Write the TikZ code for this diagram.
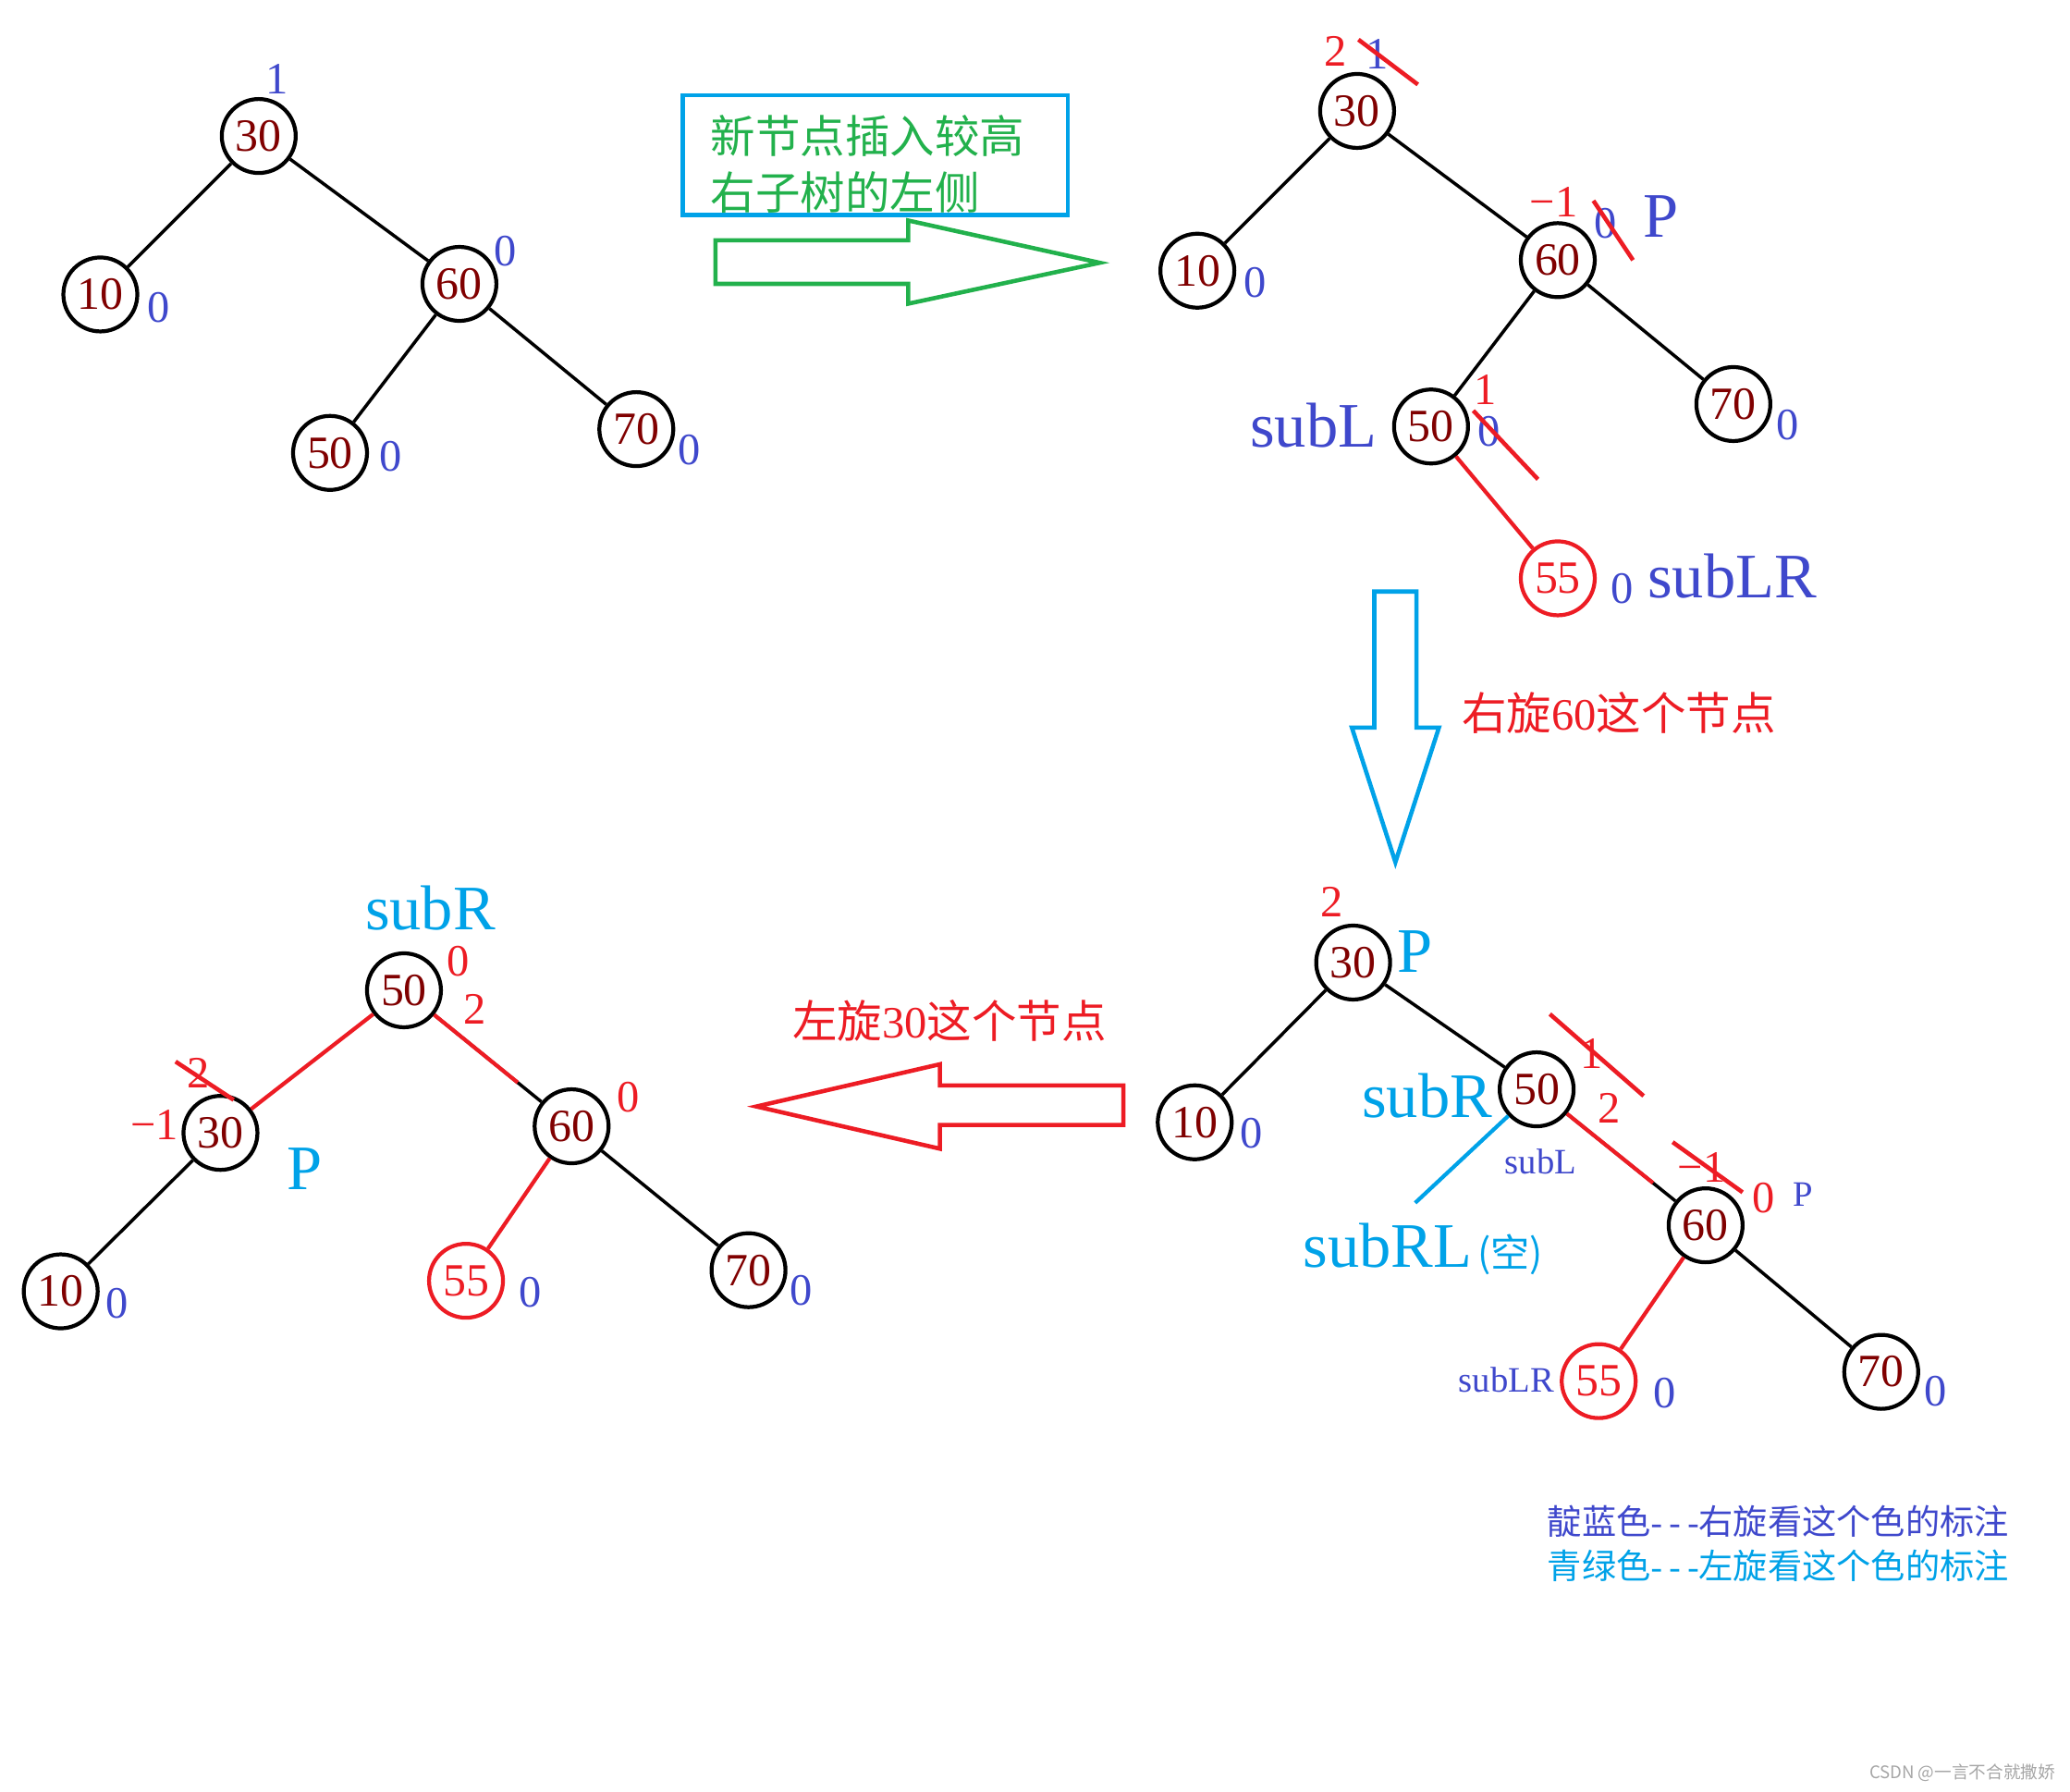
\documentclass[tikz,border=0pt]{standalone}
\usepackage{fontspec}
\setmainfont{Liberation Serif}
\newfontfamily\cjk{Noto Sans CJK SC}
\definecolor{nodered}{RGB}{128,0,0}
\definecolor{pred}{RGB}{237,28,36}
\definecolor{pblue}{RGB}{63,72,204}
\definecolor{pcyan}{RGB}{0,162,232}
\definecolor{pgreen}{RGB}{34,177,76}
\newcommand\tripledash{{\rmfamily -\kern0.2em-\kern0.2em-}}

\begin{document}
\begin{tikzpicture}[x = 0.01428cm, y = -0.01428cm, line width = 1pt,
    key/.style = {circle, draw, line width = 1.2pt, minimum size = 0.8cm, inner sep = 0pt, text = nodered, font = \fontsize{14.2}{16}\selectfont},
    newkey/.style = {key, draw = pred, text = pred},
    bal/.style = {inner sep = 0pt, text = pblue, font = \fontsize{13.8}{16}\selectfont},
    rbal/.style = {bal, text = pred},
    tag/.style = {inner sep = 0pt, text = pblue, font = \fontsize{19.5}{22}\selectfont},
    ctag/.style = {tag, text = pcyan},
    stag/.style = {inner sep = 0pt, text = pblue, font = \fontsize{11}{13}\selectfont},
    note/.style = {inner sep = 0pt, anchor = west, font = \cjk\fontsize{13.8}{17}\selectfont},
    redge/.style = {pred, line width = 1.2pt},
    strike/.style = {pred, line width = 1.3pt},
    fat/.style = {line width = 1.3pt, line join = miter}]
    \path[fill = white, use as bounding box] (0,0) rectangle (1568,1357);

    % before insertion
    \node[key]		(a30)	at (196,103)	{30};
    \node[key]		(a10)	at (76,223)		{10};
    \node[key]		(a60)	at (348,215)	{60};
    \node[key]		(a50)	at (250,343)	{50};
    \node[key]		(a70)	at (482,325)	{70};
    \node[bal]		(a30b)	at (210,60)		{1};
    \node[bal]		(a10b)	at (120,233)	{0};
    \node[bal]		(a60b)	at (383,190)	{0};
    \node[bal]		(a50b)	at (296,346)	{0};
    \node[bal]		(a70b)	at (522,341)	{0};
    \path	(a30)	edge	(a10);
    \path	(a30)	edge	(a60);
    \path	(a60)	edge	(a50);
    \path	(a60)	edge	(a70);

    \draw[pcyan, line width = 1.3pt] (517,72) rectangle (809,163);
    \node[note, text = pgreen]	(ins1)	at (537,103)	{新节点插入较高};
    \node[note, text = pgreen]	(ins2)	at (537,146)	{右子树的左侧};
    \draw[fat, pgreen] (542,182) -- (688,182) -- (688,167) -- (833,199) -- (688,230) -- (688,215) -- (542,215) -- cycle;

    % after insertion
    \node[key]		(b30)	at (1028,84)	{30};
    \node[key]		(b10)	at (907,205)	{10};
    \node[key]		(b60)	at (1180,197)	{60};
    \node[key]		(b50)	at (1084,323)	{50};
    \node[key]		(b70)	at (1313,306)	{70};
    \node[newkey]	(b55)	at (1180,438)	{55};
    \node[rbal]		(b30r)	at (1012,39)	{2};
    \node[bal]		(b30b)	at (1043,41)	{1};
    \node[bal]		(b10b)	at (951,214)	{0};
    \node[rbal]		(b60r)	at (1177,153)	{−1};
    \node[bal]		(b60b)	at (1216,169)	{0};
    \node[tag]		(b60p)	at (1258,164)	{P};
    \node[tag]		(b50t)	at (995,322)	{subL};
    \node[rbal]		(b50r)	at (1125,295)	{1};
    \node[bal]		(b50b)	at (1128,327)	{0};
    \node[bal]		(b70b)	at (1354,322)	{0};
    \node[bal]		(b55b)	at (1229,446)	{0};
    \node[tag]		(b55t)	at (1312,436)	{subLR};
    \path	(b30)	edge	(b10);
    \path	(b30)	edge	(b60);
    \path	(b60)	edge	(b50);
    \path	(b60)	edge	(b70);
    \path	(b50)	edge[redge]	(b55);
    \draw[strike] (1029,30) -- (1074,64);
    \draw[strike] (1207,152) -- (1237,197);
    \draw[strike] (1116,311) -- (1165,363);

    \draw[fat, pcyan] (1041,448) -- (1073,448) -- (1073,551) -- (1090,551) -- (1057,653) -- (1024,551) -- (1041,551) -- cycle;
    \node[note, text = pred]	(rot1)	at (1106,540)	{右旋{\rmfamily 60}这个节点};

    % after right rotation of 60
    \node[key]		(c30)	at (1025,729)	{30};
    \node[key]		(c10)	at (905,850)	{10};
    \node[key]		(c50)	at (1164,825)	{50};
    \node[key]		(c60)	at (1292,928)	{60};
    \node[newkey]	(c55)	at (1211,1046)	{55};
    \node[key]		(c70)	at (1425,1039)	{70};
    \coordinate		(c50l)	at (1072,911);
    \node[rbal]		(c30r)	at (1009,683)	{2};
    \node[ctag]		(c30p)	at (1072,721)	{P};
    \node[bal]		(c10b)	at (948,858)	{0};
    \node[ctag]		(c50t)	at (1081,830)	{subR};
    \node[stag]		(c50s)	at (1167,880)	{subL};
    \node[rbal]		(c50r)	at (1206,798)	{1};
    \node[rbal]		(c50q)	at (1219,839)	{2};
    \node[ctag]		(c50n)	at (1051,943)	{subRL};
    \node[inner sep = 0pt, text = pcyan, font = \cjk\fontsize{12}{14}\selectfont]	(c50e)	at (1144,950)	{(空)};
    \node[rbal]		(c60r)	at (1289,884)	{−1};
    \node[rbal]		(c60q)	at (1336,907)	{0};
    \node[stag]		(c60p)	at (1366,905)	{P};
    \node[stag]		(c55t)	at (1141,1045)	{subLR};
    \node[bal]		(c55b)	at (1261,1055)	{0};
    \node[bal]		(c70b)	at (1466,1054)	{0};
    \path	(c30)	edge	(c10);
    \path	(c30)	edge	(c50);
    \path	(c50)	edge	(c60);
    \path	(c50)	edge[redge, shorten > = 0.31cm]	(c60);
    \path	(c60)	edge[redge]	(c55);
    \path	(c60)	edge	(c70);
    \path	(c50)	edge[pcyan, line width = 1.2pt]	(c50l);
    \draw[strike] (1174,768) -- (1245,830);
    \draw[strike] (1267,865) -- (1320,903);

    \draw[fat, pred] (851,822) -- (712,822) -- (712,806) -- (573,838) -- (712,870) -- (712,852) -- (851,852) -- cycle;
    \node[note, text = pred]	(rot2)	at (599,773)	{左旋{\rmfamily 30}这个节点};

    % after left rotation of 30
    \node[key]		(d50)	at (306,750)	{50};
    \node[key]		(d30)	at (167,858)	{30};
    \node[key]		(d60)	at (433,853)	{60};
    \node[key]		(d10)	at (46,978)		{10};
    \node[newkey]	(d55)	at (353,970)	{55};
    \node[key]		(d70)	at (567,962)	{70};
    \node[ctag]		(d50t)	at (326,688)	{subR};
    \node[rbal]		(d50r)	at (347,728)	{0};
    \node[rbal]		(d50q)	at (360,764)	{2};
    \node[rbal]		(d30r)	at (150,813)	{2};
    \node[rbal]		(d30q)	at (117,852)	{−1};
    \node[ctag]		(d30p)	at (231,885)	{P};
    \node[rbal]		(d60r)	at (476,831)	{0};
    \node[bal]		(d10b)	at (89,987)		{0};
    \node[bal]		(d55b)	at (402,979)	{0};
    \node[bal]		(d70b)	at (607,977)	{0};
    \path	(d50)	edge[redge]	(d30);
    \path	(d50)	edge	(d60);
    \path	(d50)	edge[redge, shorten > = 0.33cm]	(d60);
    \path	(d30)	edge	(d10);
    \path	(d60)	edge[redge]	(d55);
    \path	(d60)	edge	(d70);
    \draw[strike] (133,804) -- (177,833);

    \node[note, text = pblue, font = \cjk\fontsize{10.6}{13}\selectfont]	(key1)	at (1171,1152)	{靛蓝色\tripledash 右旋看这个色的标注};
    \node[note, text = pcyan, font = \cjk\fontsize{10.6}{13}\selectfont]	(key2)	at (1171,1186)	{青绿色\tripledash 左旋看这个色的标注};
    \node[inner sep = 0pt, anchor = east, text = gray!70, font = \cjk\fontsize{5.3}{6}\selectfont]	(mark)	at (1558,1343)	{CSDN @一言不合就撒娇};
\end{tikzpicture}
\end{document}
